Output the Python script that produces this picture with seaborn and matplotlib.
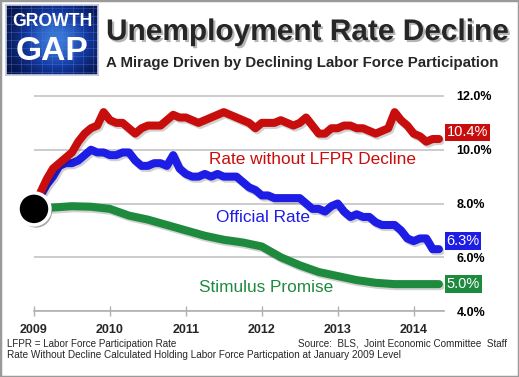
import numpy as np
import pandas as pd
import matplotlib
matplotlib.use("Agg")
import matplotlib.pyplot as plt
import seaborn as sns
from matplotlib import patheffects as pe
from matplotlib.patches import Rectangle
from matplotlib.colors import LinearSegmentedColormap

# ---------------- data ----------------
months = pd.date_range("2009-01-01", "2014-05-01", freq="MS")
official_rate = [
    7.8, 8.3, 8.7, 9.0, 9.4, 9.5, 9.5, 9.6, 9.8, 10.0, 9.9, 9.9,
    9.8, 9.8, 9.9, 9.9, 9.6, 9.4, 9.4, 9.5, 9.5, 9.4, 9.8, 9.3,
    9.1, 9.0, 9.0, 9.1, 9.0, 9.1, 9.0, 9.0, 9.0, 8.8, 8.6, 8.5,
    8.3, 8.3, 8.2, 8.2, 8.2, 8.2, 8.2, 8.0, 7.8, 7.8, 7.7, 7.9,
    8.0, 7.7, 7.5, 7.6, 7.5, 7.5, 7.3, 7.2, 7.2, 7.2, 7.0, 6.7,
    6.6, 6.7, 6.7, 6.3, 6.3,
]
rate_without_lfpr = [
    7.8, 8.4, 8.9, 9.3, 9.5, 9.7, 9.9, 10.3, 10.6, 10.8, 10.9, 11.4,
    11.1, 11.0, 11.0, 10.8, 10.6, 10.8, 10.9, 10.9, 10.9, 11.1, 11.3, 11.2,
    11.2, 11.1, 11.0, 11.1, 11.2, 11.3, 11.4, 11.3, 11.2, 11.1, 11.0, 10.8,
    11.0, 11.0, 11.0, 11.1, 11.0, 10.9, 11.0, 11.2, 10.9, 10.6, 10.6, 10.8,
    10.8, 10.9, 10.9, 10.8, 10.8, 10.7, 10.6, 10.7, 10.8, 11.4, 11.1, 10.9,
    10.6, 10.5, 10.3, 10.4, 10.4,
]
stimulus_dates = list(pd.date_range("2009-01-01", "2014-04-01", freq="QS")) + [pd.Timestamp("2014-05-01")]
stimulus_promise = [
    7.8, 7.85, 7.9, 7.88, 7.8, 7.55, 7.4, 7.2, 7.0, 6.8, 6.65, 6.55,
    6.4, 6.0, 5.7, 5.45, 5.3, 5.15, 5.05, 5.0, 5.0, 5.0, 5.0,
]
year_ticks = [2009, 2010, 2011, 2012, 2013, 2014]
pct_ticks = [4, 6, 8, 10, 12]
series_labels = ["Rate without LFPR Decline", "Official Rate", "Stimulus Promise"]
end_labels = ["10.4%", "6.3%", "5.0%"]

RED, BLUE, GREEN = "#c80d0d", "#1d1de6", "#1e8a3e"


def frac_year(dates):
    return [d.year + (d.month - 1) / 12 for d in dates]


df_off = pd.DataFrame({"t": frac_year(months), "v": official_rate})
df_red = pd.DataFrame({"t": frac_year(months), "v": rate_without_lfpr})
df_stim = pd.DataFrame({"t": frac_year(stimulus_dates), "v": stimulus_promise})

# ---------------- figure ----------------
sns.set_theme(style="white")
plt.rcParams["font.family"] = ["Liberation Sans", "DejaVu Sans"]

W, H = 519, 377
fig = plt.figure(figsize=(W / 100, H / 100), dpi=100)
fig.patch.set_facecolor("white")
renderer = fig.canvas.get_renderer()


def fx(px):
    return px / W


def fy(py):
    return 1 - py / H


def fit(t, target_w):
    bb = t.get_window_extent(renderer)
    t.set_fontsize(t.get_fontsize() * target_w / bb.width)
    return t


ax_l, ax_r, ax_b = 34, 444, 311
ymin, ymax = 4, 12.5
ppu = (311 - 96) / 8.0
ax_t = ax_b - (ymax - ymin) * ppu
ax = fig.add_axes([fx(ax_l), fy(ax_b), (ax_r - ax_l) / W, (ax_b - ax_t) / H])
ax.set_facecolor("white")

shadow = [pe.SimpleLineShadow(offset=(1.2, -1.5), shadow_color="black", alpha=0.18), pe.Normal()]
kw = dict(linewidth=5.8, solid_capstyle="round", solid_joinstyle="round", legend=False, path_effects=shadow)
sns.lineplot(data=df_stim, x="t", y="v", color=GREEN, ax=ax, **kw)
sns.lineplot(data=df_off, x="t", y="v", color=BLUE, ax=ax, **kw)
sns.lineplot(data=df_red, x="t", y="v", color=RED, ax=ax, **kw)

# start marker
ax.plot([df_off["t"].iloc[0]], [official_rate[0]], marker="o", ms=23, mfc="black", mec="white",
        mew=2.5, clip_on=False, zorder=10,
        path_effects=[pe.SimplePatchShadow(offset=(1.5, -2), alpha=0.35), pe.Normal()])

ax.set_xlim(2009, 2014.4)
ax.set_ylim(ymin, ymax)
ax.set_xlabel("")
ax.set_ylabel("")
for s in ["top", "right", "left"]:
    ax.spines[s].set_visible(False)
ax.spines["bottom"].set_color("#b0b0b0")
ax.spines["bottom"].set_linewidth(1.2)
ax.set_yticks(pct_ticks)
ax.set_yticklabels([f"{v:.1f}%" for v in pct_ticks], fontweight="bold", fontsize=9)
ax.yaxis.tick_right()
ax.tick_params(axis="y", length=0, pad=9, colors="black")
ax.yaxis.grid(True, color="#c4c4c4", linewidth=1.2)
ax.set_axisbelow(True)
ax.set_xticks(year_ticks)
ax.set_xticklabels([str(y) for y in year_ticks], fontweight="bold", fontsize=9)
ax.tick_params(axis="x", direction="inout", length=7, width=1, color="#b0b0b0", pad=6, bottom=True)

# end-value boxes
ends = [(rate_without_lfpr[-1], RED, 6.5), (official_rate[-1], BLUE, 8), (stimulus_promise[-1], GREEN, 0)]
for (val, col, dy), lab in zip(ends, end_labels):
    ax.annotate(lab, xy=(1.0, val), xycoords=ax.get_yaxis_transform(),
                xytext=(2.5, dy), textcoords="offset pixels", ha="left", va="center",
                fontsize=10.5, color="white",
                bbox=dict(boxstyle="square,pad=0.12", fc=col, ec="none"), annotation_clip=False)

# series labels
fig.text(fx(312.5), fy(160), series_labels[0], color=RED, fontsize=12.4, ha="center", va="center")
fig.text(fx(263), fy(217), series_labels[1], color=BLUE, fontsize=12.4, ha="center", va="center")
fig.text(fx(266.5), fy(287), series_labels[2], color=GREEN, fontsize=12.4, ha="center", va="center")

# title
tshadow = [pe.SimplePatchShadow(offset=(1.5, -1.5), alpha=0.3), pe.Normal()]
t1 = fig.text(fx(106), fy(40), "Unemployment Rate Decline", fontsize=22, fontweight="bold",
              ha="left", va="baseline", path_effects=tshadow)
fit(t1, 402)
t2 = fig.text(fx(106), fy(67), "A Mirage Driven by Declining Labor Force Participation", fontsize=12,
              fontweight="bold", ha="left", va="baseline")
fit(t2, 392)

# logo
lax = fig.add_axes([fx(6), fy(75), 92 / W, 70 / H])
yy, xx = np.mgrid[0:1:70j, 0:1:92j]
grad = np.exp(-((xx - 0.55) ** 2 / 0.18 + (yy - 0.5) ** 2 / 0.25))
cmap = LinearSegmentedColormap.from_list("logo", ["#07103f", "#1438a0", "#3a78d8"])
lax.imshow(grad, cmap=cmap, aspect="auto", extent=(0, 1, 0, 1))
for g in np.linspace(0.05, 0.95, 9):
    lax.axvline(g, color="#4a80d8", lw=0.5, alpha=0.5)
    lax.axhline(g, color="#4a80d8", lw=0.5, alpha=0.5)
lax.set_xlim(0, 1)
lax.set_ylim(0, 1)
lax.set_xticks([])
lax.set_yticks([])
for s in lax.spines.values():
    s.set_color("#c0c8e0")
g1 = lax.text(0.5, 0.76, "GROWTH", color="white", fontsize=12, fontweight="bold",
              ha="center", va="center", transform=lax.transAxes)
fit(g1, 80)
g2 = lax.text(0.5, 0.33, "GAP", color="white", fontsize=28, fontweight="bold",
              ha="center", va="center", transform=lax.transAxes)
fit(g2, 73)

# footer
fig.text(fx(7), fy(344), "LFPR = Labor Force Participation Rate", fontsize=7.1, ha="left", va="center")
fig.text(fx(507), fy(344), "Source:  BLS,  Joint Economic Committee  Staff", fontsize=7.1, ha="right", va="center")
fig.text(fx(7), fy(355), "Rate Without Decline Calculated Holding Labor Force Particpation at January 2009 Level",
         fontsize=7.2, ha="left", va="center")

# outer border
fig.patches.append(Rectangle((0, 0), 1, 1, transform=fig.transFigure, fill=False,
                             ec="#9a9a9a", lw=2.5, zorder=100))

fig.savefig("out.png", dpi=100, facecolor="white")
